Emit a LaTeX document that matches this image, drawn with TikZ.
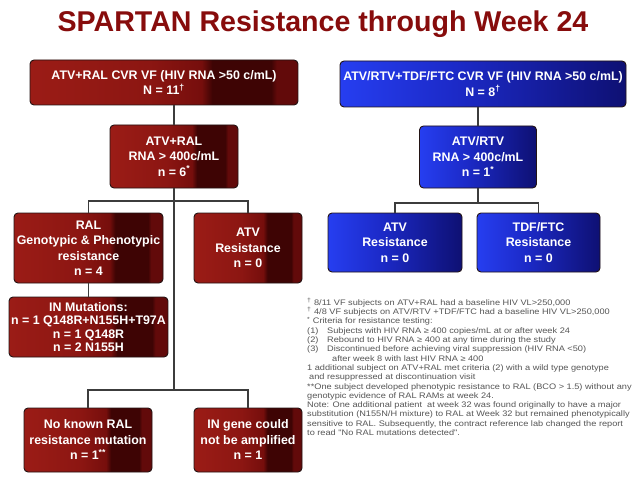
\documentclass[tikz,border=0pt]{standalone}
\usepackage{fontspec}
\setmainfont{Liberation Sans}
\newfontfamily\notefont[FakeStretch=1.15]{Liberation Sans}
\usepackage{xcolor}
\usetikzlibrary{positioning}
\definecolor{titleRed}{RGB}{135,12,12}
\definecolor{linkGray}{RGB}{60,60,60}
\definecolor{noteGray}{RGB}{85,85,85}
\definecolor{boxEdge}{RGB}{35,20,20}
\definecolor{redA}{RGB}{155,28,22}
\definecolor{redB}{RGB}{140,22,18}
\definecolor{redC}{RGB}{118,14,12}
\definecolor{redD}{RGB}{62,4,4}
\definecolor{redE}{RGB}{98,10,10}
\definecolor{blueA}{RGB}{38,62,240}
\definecolor{blueB}{RGB}{28,42,200}
\definecolor{blueC}{RGB}{14,16,115}
\pgfdeclarehorizontalshading{spartanRed}{100bp}{color(0bp)=(redA); color(25bp)=(redA); color(47bp)=(redB); color(57bp)=(redC); color(59bp)=(redD); color(70bp)=(redD); color(71bp)=(redE); color(75bp)=(redE); color(100bp)=(redE)}
\pgfdeclarehorizontalshading{spartanBlue}{100bp}{color(0bp)=(blueA); color(25bp)=(blueA); color(45bp)=(blueB); color(75bp)=(blueC); color(100bp)=(blueC)}
\begin{document}
\begin{tikzpicture}[x=1pt,y=-1pt,
    redbox/.style={draw=boxEdge, line width=0.9pt, rounded corners=4pt, shade, shading=spartanRed,
        text=white, font=\bfseries\fontsize{12.4}{15.5}\selectfont, align=center, inner sep=0pt},
    bluebox/.style={redbox, shading=spartanBlue},
    link/.style={linkGray, line width=1.1pt}]
    \useasboundingbox[fill=white] (0,0) rectangle (640,484);
    \node[text=titleRed, font=\bfseries\fontsize{28.6}{32}\selectfont] (title) at (323,24) {SPARTAN Resistance through Week 24};
    \node[redbox, minimum width=268, minimum height=45] (ralTop) at (164,82.5) {ATV+RAL CVR VF (HIV RNA >50 c/mL)\\N = 11\textsuperscript{†}};
    \node[redbox, minimum width=128, minimum height=63] (ralMid) at (174,156.5) {ATV+RAL\\RNA > 400c/mL\\n = 6\textsuperscript{*}};
    \node[redbox, minimum width=149, minimum height=70] (ralGeno) at (88.5,248) {RAL\\Genotypic \& Phenotypic\\resistance\\n = 4};
    \node[redbox, minimum width=108, minimum height=70] (ralAtv) at (248,248) {ATV\\Resistance\\n = 0};
    \node[redbox, minimum width=159, minimum height=60, font=\bfseries\fontsize{12.4}{13.3}\selectfont] (ralMut) at (88.5,327) {IN Mutations:\\n = 1 Q148R+N155H+T97A\\n = 1 Q148R\\n = 2 N155H};
    \node[redbox, minimum width=128, minimum height=64] (ralNone) at (88,440) {No known RAL\\resistance mutation\\n = 1\textsuperscript{**}};
    \node[redbox, minimum width=108, minimum height=64] (ralGene) at (248,440) {IN gene could\\not be amplified\\n = 1};
    \node[bluebox, minimum width=286, minimum height=46] (rtvTop) at (483,84) {ATV/RTV+TDF/FTC CVR VF (HIV RNA >50 c/mL)\\N = 8\textsuperscript{†}};
    \node[bluebox, minimum width=117, minimum height=62] (rtvMid) at (478,157) {ATV/RTV\\RNA > 400c/mL\\n = 1\textsuperscript{*}};
    \node[bluebox, minimum width=134, minimum height=59] (rtvAtv) at (395,242.5) {ATV\\Resistance\\n = 0};
    \node[bluebox, minimum width=123, minimum height=59] (rtvTdf) at (538.5,242.5) {TDF/FTC\\Resistance\\n = 0};
    \coordinate (ralSplit) at (174,201);
    \coordinate (ralDrop) at (174,390);
    \coordinate (rtvSplit) at (478,203);
    \draw[link] (ralTop.south -| ralMid.north) -- (ralMid.north);
    \draw[link] (ralMid.south) -- (ralDrop);
    \draw[link] (ralGeno.north) |- (ralSplit) -| (ralAtv.north);
    \draw[link] (ralGeno.south) -- (ralMut.north);
    \draw[link] (ralNone.north) |- (ralDrop) -| (ralGene.north);
    \draw[link] (rtvTop.south -| rtvMid.north) -- (rtvMid.north);
    \draw[link] (rtvMid.south) -- (rtvSplit);
    \draw[link] (rtvAtv.north) |- (rtvSplit) -| (rtvTdf.north);
    \node[anchor=north west, text=noteGray, font=\notefont\fontsize{8}{9.3}\selectfont, align=left, inner sep=0pt] (notes) at (307,298) {%
        \textsuperscript{†} 8/11 VF subjects on ATV+RAL had a baseline HIV VL>250,000\\
        \textsuperscript{†} 4/8 VF subjects on ATV/RTV +TDF/FTC had a baseline HIV VL>250,000\\
        \textsuperscript{*} Criteria for resistance testing:\\
        \makebox[20pt][l]{(1)}Subjects with HIV RNA ≥ 400 copies/mL at or after week 24\\
        \makebox[20pt][l]{(2)}Rebound to HIV RNA ≥ 400 at any time during the study\\
        \makebox[20pt][l]{(3)}Discontinued before achieving viral suppression (HIV RNA <50)\\
        \hspace*{25pt}after week 8 with last HIV RNA ≥ 400\\
        1 additional subject on ATV+RAL met criteria (2) with a wild type genotype\\
        \hspace*{2pt}and resuppressed at discontinuation visit\\
        **One subject developed phenotypic resistance to RAL (BCO > 1.5) without any\\
        genotypic evidence of RAL RAMs at week 24.\\
        Note: One additional patient\ \ at week 32 was found originally to have a major\\
        substitution (N155N/H mixture) to RAL at Week 32 but remained phenotypically\\
        sensitive to RAL. Subsequently, the contract reference lab changed the report\\
        to read "No RAL mutations detected".};
\end{tikzpicture}
\end{document}
